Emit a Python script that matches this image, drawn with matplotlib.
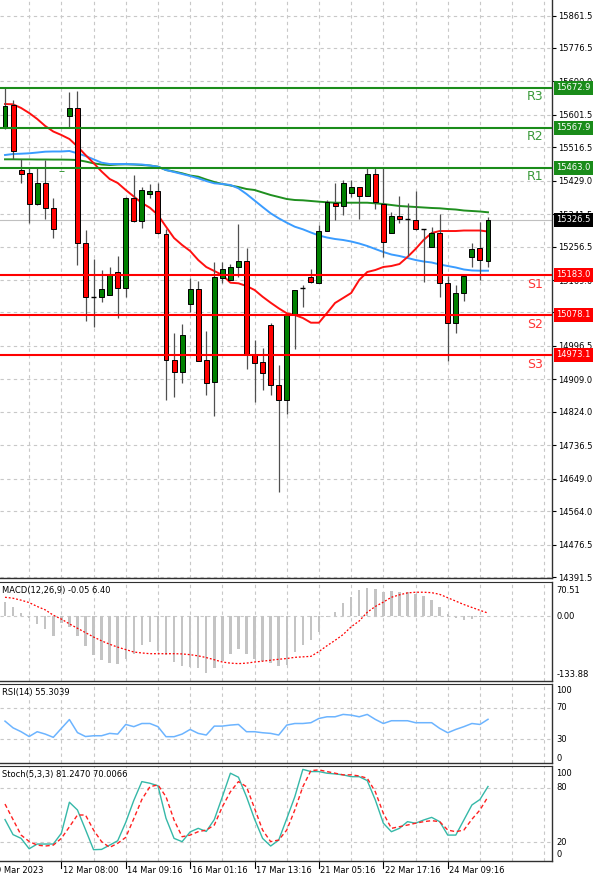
import numpy as np
import matplotlib
matplotlib.use("Agg")
import matplotlib.pyplot as plt
from matplotlib.transforms import blended_transform_factory, ScaledTranslation

plt.rcParams['font.family'] = ['DejaVu Sans']
plt.rcParams['font.size'] = 6

# ---------------- data ----------------
opens = [15567.0, 15627.0, 15457.0, 15450.0, 15368.0, 15423.8, 15356.8, 15454.0, 15598.4, 15618.6,
         15265.1, 15125.3, 15125.3, 15129.8, 15189.2, 15147.3, 15384.5, 15323.5, 15393.4, 15402.1,
         15288.7, 14959.6, 14929.0, 15105.4, 15145.5, 14959.6, 14902.0, 15174.3, 15169.1, 15203.9,
         15217.5, 14975.3, 14954.4, 15051.2, 14894.2, 14854.9, 15077.4, 15148.9, 15177.7, 15162.5,
         15297.3, 15370.6, 15362.8, 15396.0, 15411.8, 15389.0, 15445.3, 15369.3, 15292.9, 15336.6,
         15328.0, 15326.1, 15301.8, 15256.2, 15292.9, 15160.4, 15057.3, 15134.2, 15228.5, 15252.1,
         15219.6]
highs = [15675.0, 15640.3, 15485.0, 15461.5, 15465.7, 15483.2, 15383.0, 15455.0, 15662.0, 15664.6,
         15300.0, 15224.0, 15195.2, 15203.1, 15231.9, 15386.0, 15443.9, 15412.5, 15419.6, 15424.3,
         15302.6, 15029.5, 15053.9, 15174.3, 15166.4, 15035.5, 15217.0, 15217.0, 15210.9, 15315.7,
         15252.1, 15012.0, 14990.3, 15057.3, 14946.5, 15078.7, 15144.0, 15156.0, 15197.9, 15313.0,
         15378.5, 15421.7, 15430.9, 15430.1, 15412.5, 15464.9, 15462.3, 15465.7, 15347.9, 15389.0,
         15371.4, 15402.8, 15303.0, 15309.1, 15341.8, 15179.5, 15156.0, 15182.0, 15266.7, 15321.7,
         15334.8]
lows = [15564.4, 15485.0, 15422.2, 15319.1, 15366.7, 15328.0, 15278.2, 15454.0, 15566.2, 15208.3,
        15061.7, 15046.8, 15112.2, 15129.0, 15068.8, 15125.3, 15322.0, 15304.4, 15382.9, 15288.7,
        14854.1, 14862.0, 14898.6, 15085.3, 14957.0, 14868.0, 14814.3, 15162.0, 15168.0, 15178.2,
        14935.3, 14850.5, 14881.1, 14868.0, 14614.8, 14818.2, 14988.4, 15099.2, 15160.4, 15161.2,
        15297.0, 15327.4, 15339.2, 15387.1, 15328.0, 15388.0, 15354.1, 15229.3, 15292.0, 15317.0,
        15231.9, 15300.0, 15164.6, 15255.0, 15125.3, 14957.8, 15031.1, 15114.1, 15203.9, 15169.1,
        15203.9]
closes = [15624.6, 15506.8, 15446.6, 15368.0, 15422.2, 15356.8, 15301.8, 15455.0, 15618.6, 15265.1,
          15124.6, 15125.3, 15144.7, 15182.9, 15147.3, 15384.5, 15323.5, 15404.7, 15402.1, 15291.3,
          14959.6, 14929.0, 15025.1, 15145.5, 14957.8, 14898.6, 15177.7, 15197.1, 15203.9, 15217.5,
          14976.6, 14952.6, 14926.4, 14894.2, 14853.6, 15077.4, 15142.9, 15148.9, 15164.6, 15297.3,
          15373.3, 15362.8, 15423.8, 15411.8, 15389.0, 15445.3, 15373.3, 15269.3, 15336.6, 15328.0,
          15328.0, 15301.3, 15301.8, 15292.1, 15160.4, 15057.3, 15134.2, 15179.5, 15249.4, 15221.4,
          15326.5]

ma_red = [15629.8, 15629.0, 15619.4, 15606.3, 15590.6, 15572.2, 15557.8, 15548.7, 15538.2, 15518.6,
          15496.3, 15475.4, 15453.1, 15433.5, 15423.0, 15404.7, 15387.6, 15370.7, 15358.3, 15339.2,
          15308.6, 15279.0, 15260.7, 15245.0, 15221.4, 15203.1, 15192.6, 15182.2, 15162.0, 15160.4,
          15153.4, 15142.9, 15125.3, 15109.6, 15095.0, 15081.9, 15077.4, 15069.6, 15057.3, 15057.3,
          15082.7, 15108.9, 15121.9, 15135.0, 15169.1, 15190.0, 15195.2, 15203.1, 15205.7, 15210.9,
          15229.3, 15250.2, 15273.8, 15292.1, 15297.3, 15297.3, 15297.3, 15298.6, 15298.6, 15298.6,
          15296.0]
ma_blue = [15496.3, 15498.9, 15499.7, 15500.8, 15502.8, 15505.0, 15505.5, 15505.5, 15506.8, 15500.8,
           15493.7, 15485.0, 15476.2, 15472.7, 15472.7, 15472.7, 15471.9, 15471.4, 15468.8, 15465.7,
           15457.0, 15451.8, 15446.6, 15441.3, 15435.3, 15428.2, 15422.2, 15420.4, 15417.8, 15409.1,
           15394.2, 15377.2, 15360.2, 15343.7, 15330.6, 15319.1, 15308.6, 15301.8, 15293.4, 15285.6,
           15280.3, 15276.4, 15273.8, 15269.9, 15264.6, 15258.1, 15250.2, 15242.4, 15235.8, 15231.9,
           15226.7, 15221.4, 15217.5, 15214.9, 15209.7, 15205.7, 15201.8, 15196.6, 15194.0, 15193.4,
           15193.4]
ma_green = [15485.0, 15485.0, 15484.8, 15484.8, 15484.5, 15484.5, 15484.3, 15484.3, 15484.0, 15483.2,
            15479.3, 15474.6, 15471.4, 15470.1, 15471.4, 15471.9, 15471.4, 15470.1, 15468.8, 15465.7,
            15457.0, 15453.1, 15448.4, 15442.6, 15439.5, 15432.2, 15425.6, 15420.4, 15416.5, 15412.5,
            15407.3, 15404.7, 15398.1, 15391.6, 15386.4, 15381.1, 15378.5, 15377.7, 15375.9, 15374.1,
            15372.5, 15371.4, 15371.4, 15371.4, 15371.4, 15371.4, 15369.8, 15368.0, 15365.4, 15362.8,
            15361.5, 15360.2, 15358.9, 15357.6, 15356.8, 15354.9, 15353.6, 15351.0, 15349.7, 15348.4,
            15346.3]

resist_levels = [15672.9, 15567.9, 15463.0]
resist_names = ['R3', 'R2', 'R1']
support_levels = [15183.0, 15078.1, 14973.1]
support_names = ['S1', 'S2', 'S3']
last_price = 15326.5

price_ticks = [15861.5, 15776.5, 15690.0, 15601.5, 15516.5, 15429.0, 15341.5, 15256.5, 15169.0,
               15084.0, 14996.5, 14909.0, 14824.0, 14736.5, 14649.0, 14564.0, 14476.5, 14391.5]
hidden_tick_labels = [15084.0]

macd_hist = [28.8, 19.9, 6.2, -4, -17, -26, -42, -14, -23, -40,
             -62, -81, -90, -97, -98, -88, -78, -60, -54, -71,
             -81, -95, -102, -105, -108, -117, -108, -93, -78, -67,
             -78, -88, -93, -97, -102, -100, -74, -60, -50, -33,
             -2, 8, 27, 39, 53, 58, 56, 49, 51, 49,
             49, 46, 42.5, 33.6, 18.5, 4, -3, -7, -5, -2,
             -0.05]
macd_signal = [39, 37, 33, 28, 20, 13, 2, -6, -16, -25,
               -34, -43, -51, -58, -64, -69, -74, -76, -77.5, -77.5,
               -77.5, -77.5, -78, -79.5, -82, -85.5, -90, -94.7, -97, -98,
               -97, -94.7, -93, -91, -89, -87.5, -85, -84, -83, -73,
               -61, -50, -38, -22, -10, 8, 20, 29, 39, 44,
               48, 49.4, 49.4, 48.5, 45, 38, 31, 24, 18, 12,
               6.4]
rsi = [53, 44.5, 39.6, 33.5, 39.6, 36.6, 32.5, 43.8, 55, 38.5,
       33.5, 34.5, 34.5, 37.5, 36.6, 48.8, 46, 50, 50, 46,
       33.3, 33.3, 36.6, 42.5, 37.5, 35.4, 46.7, 46.7, 48, 48.8,
       39.6, 39.6, 38.3, 37.5, 35.4, 48, 50, 50, 51, 56.4,
       58.5, 58.5, 61.5, 60.6, 58.5, 61.5, 55.2, 50, 53.5, 53.5,
       53.5, 51, 51, 51, 43.8, 38.3, 42.5, 46, 50, 48.8,
       55.3039]
stoch_main = [45, 28.5, 24.4, 13, 18.2, 18.2, 18.2, 30, 64, 55.5,
              34, 12, 12.3, 17, 21.8, 42, 66, 86.6, 84.8, 82,
              46.4, 24.4, 20.8, 31.5, 35.4, 32, 45, 70, 95.8, 91.4,
              70, 45.5, 24.4, 16, 22.5, 46, 70, 100, 97.6, 97.6,
              95.8, 95, 94, 92, 92, 87.7, 66.5, 41, 31.7, 35.4,
              42.7, 41, 44.5, 47.4, 42.7, 28, 28, 44.5, 61, 67,
              81.247]
stoch_signal = [62, 45, 28, 21, 17, 16, 17, 24.4, 37, 50,
                50, 33.5, 20.8, 14.5, 19, 25.5, 46, 67, 81, 83,
                70, 44.5, 26.2, 28, 31.7, 33.5, 39, 59, 75.5, 86.6,
                81, 57.3, 33.5, 20.8, 22.6, 33.5, 55.5, 81, 98.7, 99.4,
                97.6, 95.8, 94, 94, 92.8, 90.3, 75.5, 51.8, 35.4, 37.2,
                39, 41, 42.7, 43.8, 42.7, 33.5, 31.7, 33.5, 45.3, 55.5,
                70.0066]

date_labels = ['9 Mar 2023', '12 Mar 08:00', '14 Mar 09:16', '16 Mar 01:16', '17 Mar 13:16',
               '21 Mar 05:16', '22 Mar 17:16', '24 Mar 09:16']
date_label_idx = [-1, 7, 15, 23, 31, 39, 47, 55]

# ---------------- layout ----------------
W, H = 600, 881
fig = plt.figure(figsize=(W / 100, H / 100), dpi=100)
fig.patch.set_facecolor('white')
PLOT_R = 552


def panel(top, bot):
    return fig.add_axes([0, 1 - bot / H, PLOT_R / W, (bot - top) / H])


ax = panel(0, 578)
axm = panel(582, 681)
axr = panel(684, 763)
axs = panel(766, 861)

n = len(closes)
x = np.arange(n)
px_per_bar = 8.05
XL = (-5 / px_per_bar, (PLOT_R - 5) / px_per_bar)
grid_x = np.arange(3, 70, 4)
GRID = dict(color='#c8c8c8', lw=0.8, linestyle=(0, (3, 3)), zorder=0)

for a in (ax, axm, axr, axs):
    a.set_xlim(*XL)
    a.set_facecolor('white')
    for s in ('left', 'top'):
        a.spines[s].set_visible(False)
    for s in ('right', 'bottom'):
        a.spines[s].set_color('#303030')
        a.spines[s].set_linewidth(1.0)
    a.tick_params(axis='x', bottom=False, labelbottom=False)
    for gx in grid_x:
        a.axvline(gx, **GRID)
for a in (axm, axr, axs):
    a.spines['top'].set_visible(True)
    a.spines['top'].set_color('#303030')

# ---------------- main price panel ----------------
ax.set_ylim(14388.9, 15902.1)
for t in price_ticks:
    ax.axhline(t, **GRID)
ax.yaxis.tick_right()
ax.set_yticks(price_ticks)
ax.set_yticklabels(['' if t in hidden_tick_labels else f'{t:.1f}' for t in price_ticks])
ax.tick_params(axis='y', length=3, width=0.8, pad=1.5, labelsize=6, colors='#000000')

# current price line
ax.axhline(last_price, color='#c0c0c0', lw=0.8, zorder=1)

# moving averages
ax.plot(x, ma_green, color='#1f8f1f', lw=1.4, zorder=3)
ax.plot(x, ma_blue, color='#3a9cff', lw=1.4, zorder=3)
ax.plot(x, ma_red, color='#ff1010', lw=1.4, zorder=4)

# candles
o = np.array(opens); h = np.array(highs); l = np.array(lows); c = np.array(closes)
ax.vlines(x, l, h, color='#505050', lw=0.9, zorder=5)
up = c > o
dn = c < o
dj = c == o
bw = 0.62
tiny = (c - o) < 2.0
up_edges = ['#3a9a3a' if t else '#000000' for t in tiny[up]]
ax.bar(x[up], (c - o)[up], bottom=o[up], width=bw, color='#008000', edgecolor=up_edges,
       linewidth=0.7, zorder=6)
ax.bar(x[dn], (o - c)[dn], bottom=c[dn], width=bw, color='#ff0000', edgecolor='#000000',
       linewidth=0.7, zorder=6)
ax.hlines(c[dj], x[dj] - bw / 2, x[dj] + bw / 2, color='#000000', lw=1.0, zorder=6)

# support / resistance
ytr = blended_transform_factory(ax.transAxes, ax.transData)
for lv, nm in zip(resist_levels, resist_names):
    ax.axhline(lv, color='#1a8c1a', lw=1.5, zorder=7)
    ax.annotate(nm, xy=(65.8, lv), xytext=(0, -6.5), textcoords='offset points',
                ha='center', va='center', fontsize=9, color='#3a9a3a', zorder=8)
    ax.text(556.5 / PLOT_R, lv, f'{lv:.1f}', transform=ytr, ha='left', va='center',
            fontsize=6, color='white', clip_on=False, zorder=20,
            bbox=dict(boxstyle='square,pad=0.3', fc='#1a8c1a', ec='none'))
for lv, nm in zip(support_levels, support_names):
    ax.axhline(lv, color='#ff0000', lw=1.5, zorder=7)
    ax.annotate(nm, xy=(65.8, lv), xytext=(0, -7), textcoords='offset points',
                ha='center', va='center', fontsize=9, color='#ff3535', zorder=8)
    ax.text(556.5 / PLOT_R, lv, f'{lv:.1f}', transform=ytr, ha='left', va='center',
            fontsize=6, color='white', clip_on=False, zorder=20,
            bbox=dict(boxstyle='square,pad=0.3', fc='#ff0000', ec='none'))
ax.text(556.5 / PLOT_R, last_price, f'{last_price:.1f}', transform=ytr, ha='left', va='center',
        fontsize=6, color='white', clip_on=False, zorder=20,
        bbox=dict(boxstyle='square,pad=0.3', fc='#000000', ec='none'))


def side_label(a, val, txt, dy_pt=0):
    a.annotate(txt, xy=(1.0, val), xycoords=blended_transform_factory(a.transAxes, a.transData),
               xytext=(3.3, dy_pt), textcoords='offset points', ha='left', va='center',
               fontsize=6, color='#000000', annotation_clip=False)


def title_label(a, txt):
    a.text(2 / PLOT_R, 1.0, txt, ha='left', va='top', fontsize=6, color='#000000',
           transform=a.transAxes + ScaledTranslation(0, -4 / 100, fig.dpi_scale_trans))


# ---------------- MACD ----------------
axm.set_ylim(-133.88, 70.51)
axm.axhline(0, **GRID)
axm.bar(x, macd_hist, width=0.3, color='#c4c4c4', zorder=2)
axm.plot(x, macd_signal, color='#ff0000', lw=0.9, linestyle=(0, (1.5, 1.5)), zorder=3)
axm.set_yticks([])
title_label(axm, 'MACD(12,26,9) -0.05 6.40')
side_label(axm, 70.51, '70.51', -5.8)
side_label(axm, 0.0, '0.00', -0.6)
side_label(axm, -133.88, '-133.88', 5)

# ---------------- RSI ----------------
axr.set_ylim(0, 100)
for lv in (70, 30):
    axr.axhline(lv, **GRID)
axr.plot(x, rsi, color='#6cb4ff', lw=1.1, zorder=3)
axr.set_yticks([])
title_label(axr, 'RSI(14) 55.3039')
side_label(axr, 100, '100', -4.5)
side_label(axr, 70, '70', 0)
side_label(axr, 30, '30', -0.5)
side_label(axr, 0, '0', 3.5)

# ---------------- Stochastic ----------------
axs.set_ylim(-0.4, 103.7)
for lv in (80, 20):
    axs.axhline(lv, **GRID)
axs.plot(x, stoch_main, color='#35b8a8', lw=1.0, zorder=3)
axs.plot(x, stoch_signal, color='#ff2020', lw=1.0, linestyle=(0, (3, 2)), zorder=4)
axs.set_yticks([])
title_label(axs, 'Stoch(5,3,3) 81.2470 70.0066')
side_label(axs, 100, '100', -3.3)
side_label(axs, 80, '80', 0)
side_label(axs, 20, '20', 0)
side_label(axs, 0, '0', 4.5)

# date labels
xtr = blended_transform_factory(axs.transData, axs.transAxes)
for idx, lab in zip(date_label_idx, date_labels):
    dx = -1.0 if idx < 0 else 1.5
    axs.plot([idx, idx], [0, -0.07], transform=xtr, color='#000000', lw=0.8, clip_on=False)
    axs.text(idx, -0.105, lab, transform=xtr + ScaledTranslation(dx / 100, 0, fig.dpi_scale_trans),
             ha='left', va='center', fontsize=6, color='#000000', clip_on=False)

fig.savefig('out.png', dpi=100, facecolor='white')
